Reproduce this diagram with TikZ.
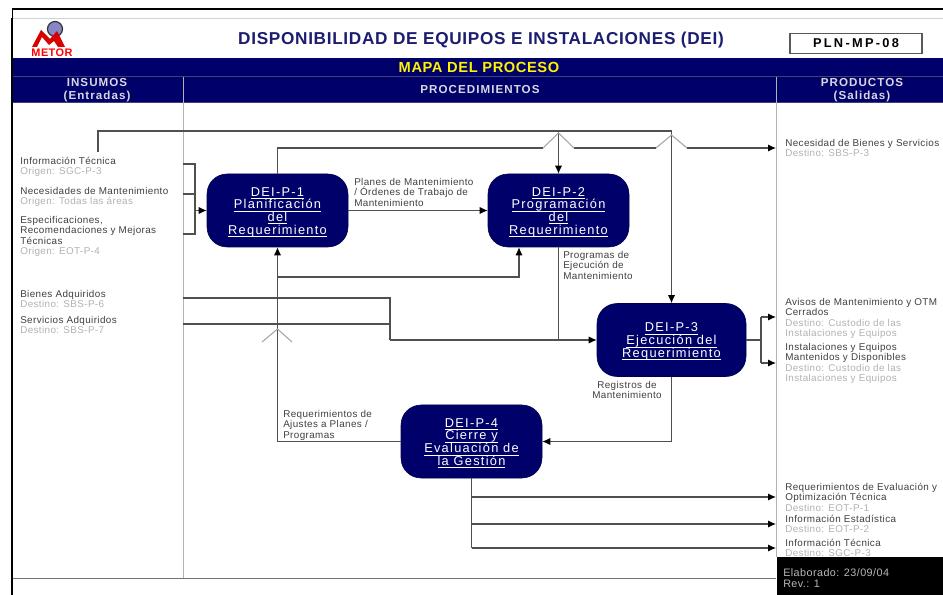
\documentclass[tikz,border=0pt]{standalone}
\usepackage{fontspec}
\setmainfont[LetterSpace=4]{Liberation Sans}
\usetikzlibrary{arrows.meta}
\definecolor{navy}{HTML}{00006A}
\definecolor{titleblue}{HTML}{1C1C70}
\definecolor{wire}{HTML}{505050}
\definecolor{namegrey}{HTML}{404040}
\definecolor{destgrey}{HTML}{B2B2B2}
\definecolor{headgrey}{HTML}{D8D8E4}
\newcommand{\dst}[1]{\textcolor{destgrey}{#1}}
\newcommand{\procfont}{\fontsize{9.6}{9.7}\selectfont\addfontfeature{LetterSpace=10}\lineskiplimit=-20pt\relax}
\newcommand{\procline}[1]{\underline{\smash{#1}}}
\newcommand{\procfirst}[1]{\rule{0pt}{9.4pt}\underline{\smash{#1}}}
\tikzset{
  x=0.75pt,y=-0.75pt,
  proc/.style={draw=navy!70!black,fill=navy,rounded corners=15pt,minimum width=105.75pt,minimum height=54.75pt,inner sep=0pt,align=center,text=white,font=\procfont},
  item/.style={anchor=north west,inner sep=0pt,align=left,text=namegrey,font=\fontsize{7.4}{7.8}\selectfont},
  head/.style={inner sep=0pt,align=center,text=headgrey,font=\fontsize{8.7}{9.8}\selectfont\bfseries\addfontfeature{LetterSpace=9}},
  wireline/.style={draw=wire,line width=0.9pt},
  flow/.style={wireline,-{Latex[length=6pt,width=5.5pt,color=black]}},
  hop/.style={draw=gray!70,line width=0.8pt}
}
\begin{document}
\begin{tikzpicture}
\useasboundingbox (0,0) rectangle (943,595);
\fill[white] (0,0) rectangle (943,595);
% frame
\draw[black,line width=0.8pt] (12,9) -- (943,9);
\draw[black,line width=0.6pt] (12.5,9) -- (12.5,18);
\draw[gray!35,line width=0.7pt] (13,18.5) -- (943,18.5);
\fill[black] (10.5,18) rectangle (13,595);
% bands
\fill[navy] (13,58) rectangle (943,102);
\draw[gray!50!navy,line width=0.6pt] (13,76.5) -- (943,76.5);
\draw[gray!50!navy,line width=0.6pt] (13,102) -- (943,102);
\draw[gray!60,line width=0.9pt] (183.5,77) -- (183.5,578);
\draw[gray!60,line width=0.9pt] (776.5,77) -- (776.5,557);
\draw[wire!80,line width=0.8pt] (13,578.5) -- (776,578.5);
% logo
\fill[blue!35!gray!70] (55,29) circle[radius=7.5];
\draw[gray!40!black,line width=0.9pt] (55,29) circle[radius=7.5];
\fill[red!85!black] (32,47) -- (41,30) -- (50,39) -- (57,31) -- (65,47) -- (58,47) -- (54,41) -- (49,45) -- (42,37) -- (37,47) -- cycle;
\node[inner sep=0pt,text=red,font=\fontsize{8.2}{9}\selectfont\bfseries] (logotext) at (52,52.5) {METOR};
% titles
\node[inner sep=0pt,text=titleblue,font=\fontsize{12.9}{14}\selectfont\bfseries] (title) at (481,40.5) {DISPONIBILIDAD DE EQUIPOS E INSTALACIONES (DEI)};
\node[draw=gray!70!black,line width=0.8pt,minimum width=99pt,minimum height=14.5pt,inner sep=0pt,font=\fontsize{9.6}{10}\selectfont\bfseries\addfontfeature{LetterSpace=18}] (code) at (856,43.5) {PLN-MP-08};
\node[inner sep=0pt,text=yellow,font=\fontsize{11}{12}\selectfont\bfseries] (mapa) at (479,67.5) {MAPA DEL PROCESO};
\node[head] (insumos) at (97,90.5) {INSUMOS\\(Entradas)};
\node[head] (procs) at (480,90) {PROCEDIMIENTOS};
\node[head] (productos) at (862,90.5) {PRODUCTOS\\(Salidas)};
% process boxes
\node[proc] (p1) at (277.5,210.5) {\procfirst{DEI-P-1}\\\procline{Planificación}\\\procline{del}\\\procline{Requerimiento}};
\node[proc] (p2) at (558.5,210.5) {\procfirst{DEI-P-2}\\\procline{Programación}\\\procline{del}\\\procline{Requerimiento}};
\node[proc,minimum width=111.75pt] (p3) at (671.5,340) {\procfirst{DEI-P-3}\\\procline{Ejecución del}\\\procline{Requerimiento}};
\node[proc] (p4) at (471.5,441.5) {\procfirst{DEI-P-4}\\\procline{Cierre y}\\\procline{Evaluación de}\\\procline{la Gestión}};
% left items
\node[item] (i1) at (20,157) {Información Técnica\\\dst{Origen: SGC-P-3}};
\node[item] (i2) at (20,187) {Necesidades de Mantenimiento\\\dst{Origen: Todas las áreas}};
\node[item] (i3) at (20,216) {Especificaciones,\\Recomendaciones y Mejoras\\Técnicas\\\dst{Origen: EOT-P-4}};
\node[item] (i4) at (20,290) {Bienes Adquiridos\\\dst{Destino: SBS-P-6}};
\node[item] (i5) at (20,316) {Servicios Adquiridos\\\dst{Destino: SBS-P-7}};
% right items
\node[item] (o1) at (785,139) {Necesidad de Bienes y Servicios\\\dst{Destino: SBS-P-3}};
\node[item] (o2) at (785,298) {Avisos de Mantenimiento y OTM\\Cerrados\\\dst{Destino: Custodio de las}\\\dst{Instalaciones y Equipos}};
\node[item] (o3) at (785,343) {Instalaciones y Equipos\\Mantenidos y Disponibles\\\dst{Destino: Custodio de las}\\\dst{Instalaciones y Equipos}};
\node[item] (o4) at (785,483) {Requerimientos de Evaluación y\\Optimización Técnica\\\dst{Destino: EOT-P-1}};
\node[item] (o5) at (785,515) {Información Estadística\\\dst{Destino: EOT-P-2}};
\node[item] (o6) at (785,539) {Información Técnica\\\dst{Destino: SGC-P-3}};
% connector labels
\node[item] (l1) at (354,178) {Planes de Mantenimiento\\/ Órdenes de Trabajo de\\Mantenimiento};
\node[item] (l2) at (563,251) {Programas de\\Ejecución de\\Mantenimiento};
\node[item,align=center,anchor=north east] (l3) at (662,381) {Registros de\\Mantenimiento};
\node[item] (l4) at (283,410) {Requerimientos de\\Ajustes a Planes /\\Programas};
% footer
\fill[black] (777,557) rectangle (943,595);
\node[item,text=gray!55,font=\fontsize{8.1}{8.9}\selectfont] (footer) at (783,568) {Elaborado: 23/09/04\\Rev.: 1};
% named routing points
\coordinate (startinfo) at (98,152);
\coordinate (railA) at (98,131);
\coordinate (hopP2) at (543,148);
\coordinate (hopP2b) at (574,148);
\coordinate (hopP3) at (656,148);
\coordinate (hopP3b) at (687,148);
\coordinate (outNec) at (776,148);
\coordinate (busin) at (195,0);
\coordinate (edge) at (183,0);
\coordinate (bus2) at (390,0);
\coordinate (busout) at (761,0);
\coordinate (outedge) at (776,0);
\coordinate (ret) at (519,0);
% top rails
\draw[wireline] (startinfo) -- (railA) -- (p3.north |- railA);
\draw[flow] (p2.north |- railA) -- (p2.north);
\draw[flow] (p3.north |- railA) -- (p3.north);
\draw[wireline] (p1.north) -- (p1.north |- hopP2) -- (hopP2);
\draw[wireline] (hopP2b) -- (hopP3);
\draw[flow] (hopP3b) -- (outNec);
\draw[hop] (hopP2) -- (558.5,133) -- (hopP2b);
\draw[hop] (hopP3) -- (671.5,135) -- (hopP3b);
% inputs to P1
\draw[wireline] (edge |- 0,164) -- (busin |- 0,164) -- (busin |- 0,234) -- (edge |- 0,234);
\draw[wireline] (edge |- 0,194) -- (busin |- 0,194);
\draw[flow] (busin |- p1.west) -- (p1.west);
% P1 to P2
\draw[flow] (p1.east) -- (p2.west);
% return
\draw[flow] (p4.west) -- (p1.south |- p4.west) -- (p1.south);
\draw[flow] (p1.south |- 0,277) -- (ret |- 0,277) -- (ret |- p2.south);
\draw[hop] (262,342) -- (277.5,329) -- (292,342);
% inputs to P3
\draw[wireline] (edge |- 0,298) -- (bus2 |- 0,298) -- (bus2 |- p3.west);
\draw[wireline] (edge |- 0,324) -- (bus2 |- 0,324);
\draw[flow] (bus2 |- p3.west) -- (p3.west);
\draw[wireline] (p2.south) -- (p2.south |- p3.west);
% P3 outputs
\draw[wireline] (p3.east) -- (busout |- p3.east);
\draw[flow] (busout |- 0,317) -- (outedge |- 0,317);
\draw[flow] (busout |- 0,363) -- (outedge |- 0,363);
\draw[wireline] (busout |- 0,317) -- (busout |- 0,363);
% P3 to P4
\draw[flow] (p3.south) -- (p3.south |- p4.east) -- (p4.east);
% P4 outputs
\draw[wireline] (p4.south) -- (p4.south |- 0,548);
\draw[flow] (p4.south |- 0,497) -- (outedge |- 0,497);
\draw[flow] (p4.south |- 0,524) -- (outedge |- 0,524);
\draw[flow] (p4.south |- 0,548) -- (outedge |- 0,548);
\end{tikzpicture}
\end{document}
